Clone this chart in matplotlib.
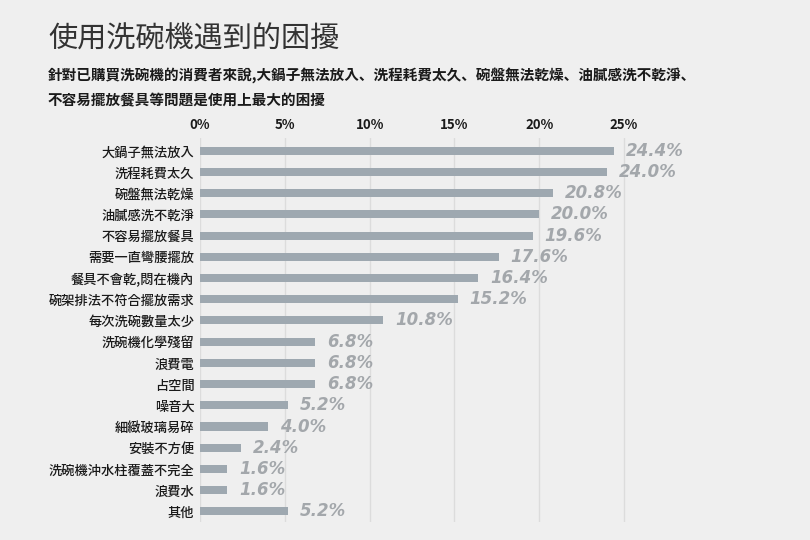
import matplotlib
matplotlib.use("Agg")
import matplotlib.pyplot as plt
from matplotlib import font_manager as fm

categories = ["大鍋子無法放入","洗程耗費太久","碗盤無法乾燥","油膩感洗不乾淨","不容易擺放餐具",
              "需要一直彎腰擺放","餐具不會乾,悶在機內","碗架排法不符合擺放需求","每次洗碗數量太少",
              "洗碗機化學殘留","浪費電","占空間","噪音大","細緻玻璃易碎","安裝不方便",
              "洗碗機沖水柱覆蓋不完全","浪費水","其他"]
values = [24.4,24.0,20.8,20.0,19.6,17.6,16.4,15.2,10.8,6.8,6.8,6.8,5.2,4.0,2.4,1.6,1.6,5.2]
ticks = [0,5,10,15,20,25]
tick_labels = ["0%","5%","10%","15%","20%","25%"]

names = {f.name for f in fm.fontManager.ttflist}
cjk = [n for n in ["Noto Sans CJK TC","Noto Sans CJK JP","Noto Sans CJK SC","Noto Sans CJK KR"] if n in names]
if not cjk:
    for f in fm.findSystemFonts():
        if "CJK" in f:
            fm.fontManager.addfont(f)
    names = {f.name for f in fm.fontManager.ttflist}
    cjk = [n for n in names if "CJK" in n]
plt.rcParams["font.family"] = cjk + ["DejaVu Sans"]

fig = plt.figure(figsize=(8.1,5.4), dpi=100)
fig.patch.set_facecolor("#efefef")
ax = fig.add_axes([200/810, 1-522/540, 475/810, (522-138)/540])
ax.set_facecolor("none")
y = list(range(len(categories)))
ax.barh(y, values, height=0.38, color="#9ea8b0", zorder=2)
for yi, v in zip(y, values):
    ax.text(v+0.7, yi, f"{v:.1f}%", va="center", ha="left", fontsize=12, fontstyle="italic",
            fontweight="bold", color="#a3a7ab", family="DejaVu Sans")
ax.set_xlim(0,28)
ax.set_ylim(len(categories)-0.5, -0.6)
ax.set_yticks(y)
ax.set_yticklabels(categories, fontsize=9.5, color="#1a1a1a", fontweight="medium")
ax.set_xticks(ticks)
ax.set_xticklabels(tick_labels, fontsize=9.5, color="#1a1a1a", fontweight="bold")
ax.xaxis.tick_top()
ax.tick_params(length=0, pad=4)
ax.grid(axis="x", color="#dcdcdc", lw=1, zorder=0)
for s in ax.spines.values():
    s.set_visible(False)
fig.text(48/810, 1-40/540, "使用洗碗機遇到的困擾", fontsize=21, color="#333333", va="center")
fig.text(48/810, 1-75/540, "針對已購買洗碗機的消費者來說,大鍋子無法放入、洗程耗費太久、碗盤無法乾燥、油膩感洗不乾淨、",
         fontsize=10.5, color="#1a1a1a", va="center", fontweight="bold")
fig.text(48/810, 1-100/540, "不容易擺放餐具等問題是使用上最大的困擾", fontsize=10.5, color="#1a1a1a", va="center", fontweight="bold")
fig.savefig("out.png", dpi=100, facecolor=fig.get_facecolor())
